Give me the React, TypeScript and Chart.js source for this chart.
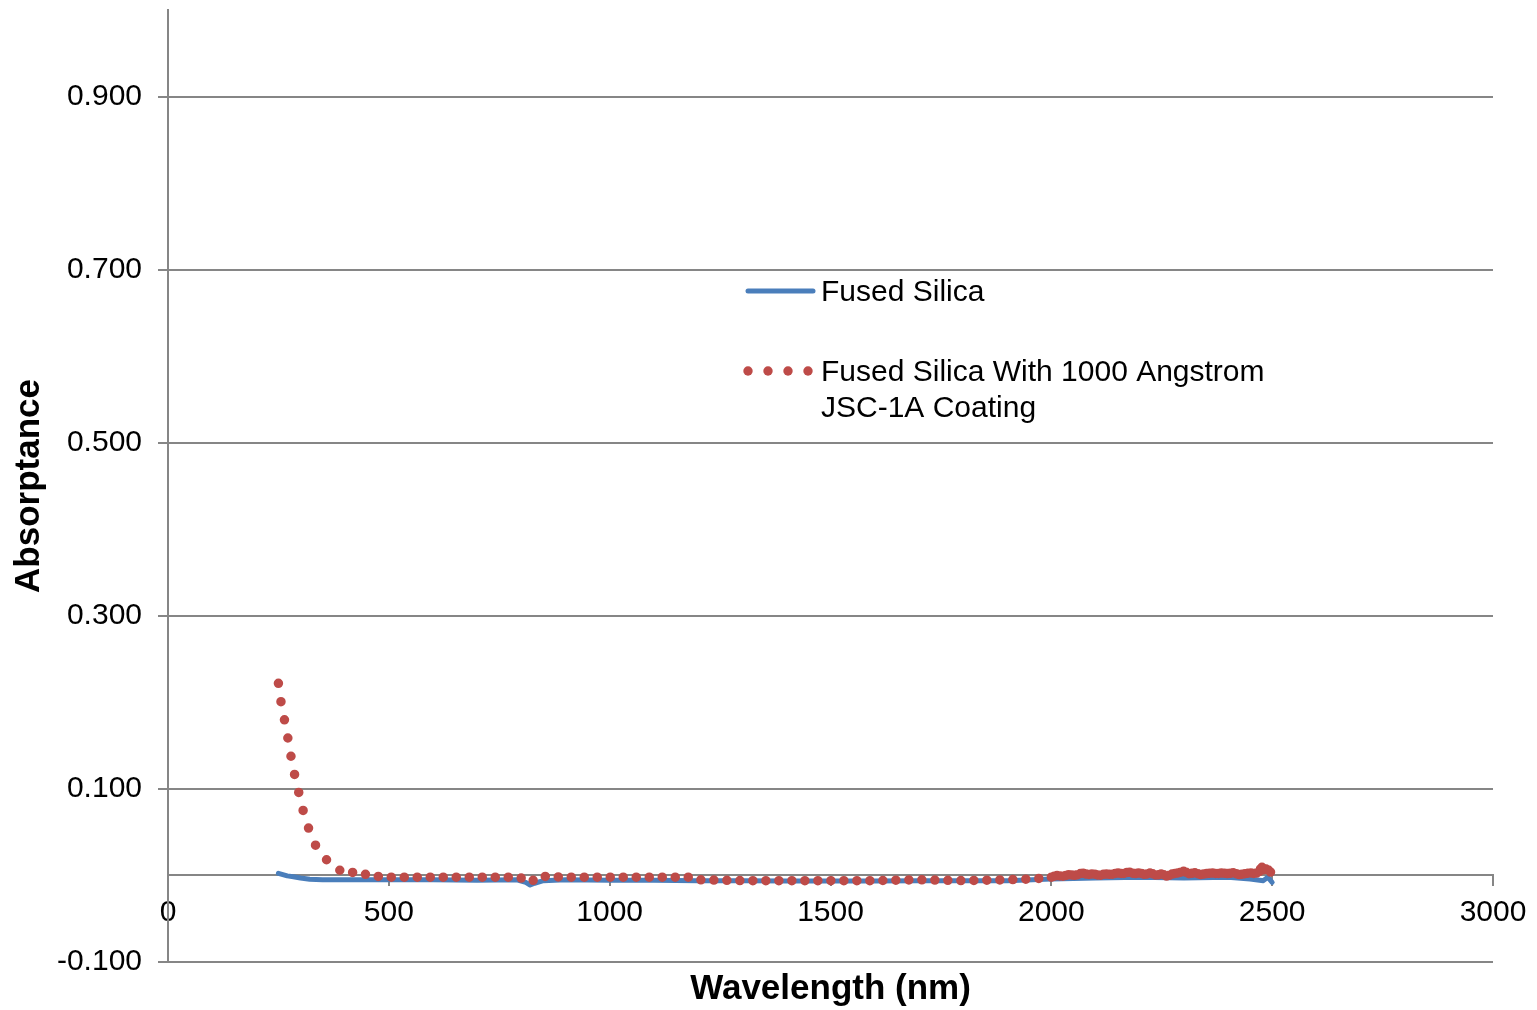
import React, { useEffect, useRef } from 'react';
import { Chart, registerables } from 'chart.js';

Chart.register(...registerables);

// ---- data ----
const X_TICKS = [0, 500, 1000, 1500, 2000, 2500, 3000];
const Y_TICKS = [-0.1, 0.1, 0.3, 0.5, 0.7, 0.9];

const SERIES_LABELS = ['Fused Silica', 'Fused Silica With 1000 Angstrom JSC-1A Coating'];

const SILICA_NM = [
  250, 260, 270, 284, 300, 321, 350, 400, 500, 600, 700, 790, 810, 820, 830, 850, 900,
  1000, 1100, 1200, 1300, 1400, 1500, 1600, 1700, 1800, 1900, 2000, 2100, 2200, 2300,
  2400, 2450, 2480, 2490, 2500,
];
const SILICA_ABS = [
  0.0025, 0.001, -0.0005, -0.0015, -0.003, -0.0045, -0.005, -0.005, -0.005, -0.005, -0.0055,
  -0.005, -0.008, -0.011, -0.009, -0.006, -0.005,
  -0.0055, -0.0055, -0.006, -0.006, -0.0065, -0.0065, -0.0065, -0.006, -0.006, -0.006,
  -0.004, -0.003, -0.002, -0.003, -0.002, -0.004, -0.006, -0.002, -0.008,
];

const COATED_NM = [
  250, 256, 264, 272, 279, 286, 296, 306, 318, 332, 343, 355, 370, 389, 410, 427, 451, 472,
  495, 520, 600, 700, 790, 810, 820, 830, 840, 850, 900, 1000, 1100, 1180, 1200, 1300, 1400,
  1500, 1600, 1700, 1800, 1900, 1960, 2000, 2012, 2025, 2040, 2055, 2070, 2082, 2095, 2110,
  2122, 2135, 2150, 2162, 2175, 2188, 2200, 2212, 2225, 2238, 2250, 2262, 2275, 2288, 2300,
  2312, 2325, 2338, 2350, 2362, 2375, 2388, 2400, 2412, 2425, 2438, 2450, 2462, 2470, 2476,
  2482, 2488, 2494, 2500,
];
const COATED_ABS = [
  0.222, 0.2, 0.179, 0.157, 0.136, 0.118, 0.096, 0.075, 0.055, 0.037, 0.026, 0.02, 0.013,
  0.006, 0.004, 0.003, 0.001, -0.001,
  -0.002, -0.002, -0.002, -0.002, -0.002, -0.004, -0.007, -0.005, -0.002, -0.001, -0.002,
  -0.002, -0.002, -0.002, -0.005, -0.006, -0.006,
  -0.006, -0.006, -0.005, -0.006, -0.005, -0.004, -0.002, 0.0, -0.001, 0.001, 0.0, 0.003,
  0.001, 0.002, 0.0,
  0.002, 0.001, 0.003, 0.002, 0.004, 0.002, 0.003, 0.001, 0.003, 0.0, 0.002, -0.001, 0.002,
  0.003, 0.005,
  0.002, 0.003, 0.001, 0.002, 0.003, 0.002, 0.003, 0.002, 0.003, 0.001, 0.002, 0.003, 0.002,
  0.004, 0.01,
  0.006, 0.008, 0.005, 0.002,
];

// ---- style ----
const FONT = "'Liberation Sans', Arial, Helvetica, sans-serif";
const GRID = '#868686';
const BLUE = '#4A7EBB';
const RED = '#BE4B48';

const legendPlugin = {
  id: 'insideLegend',
  afterDraw(chart: any) {
    const ctx = chart.ctx as CanvasRenderingContext2D;
    ctx.save();
    // blue line sample
    ctx.strokeStyle = BLUE;
    ctx.lineWidth = 5;
    ctx.lineCap = 'round';
    ctx.beginPath();
    ctx.moveTo(748, 291);
    ctx.lineTo(813, 291);
    ctx.stroke();
    // red dots sample
    ctx.fillStyle = RED;
    for (let i = 0; i < 4; i++) {
      ctx.beginPath();
      ctx.arc(748 + i * 20, 371, 4.7, 0, Math.PI * 2);
      ctx.fill();
    }
    ctx.fillStyle = '#000';
    ctx.font = `30px ${FONT}`;
    ctx.textAlign = 'left';
    ctx.textBaseline = 'middle';
    ctx.fillText(SERIES_LABELS[0], 821, 293);
    ctx.fillText('Fused Silica With 1000 Angstrom', 821, 373);
    ctx.fillText('JSC-1A Coating', 821, 409);
    ctx.restore();
  },
};

export default function App() {
  const canvasRef = useRef<HTMLCanvasElement | null>(null);

  useEffect(() => {
    if (!canvasRef.current) return;
    const chart = new Chart(canvasRef.current, {
      type: 'line',
      data: {
        datasets: [
          {
            label: SERIES_LABELS[1],
            data: COATED_NM.map((x, i) => ({ x, y: COATED_ABS[i] })),
            borderColor: RED,
            backgroundColor: RED,
            borderWidth: 9.5,
            borderCapStyle: 'round',
            borderJoinStyle: 'round',
            borderDash: [0, 13],
            segment: {
              borderDash: (c: any) => {
                const x = c.p0.parsed.x;
                if (x < 380) return [0, 18.5];
                if (x >= 1990) return [0, 3];
                return [0, 13];
              },
            },
            pointRadius: 0,
            fill: false,
            tension: 0,
            order: 0,
          },
          {
            label: SERIES_LABELS[0],
            data: SILICA_NM.map((x, i) => ({ x, y: SILICA_ABS[i] })),
            borderColor: BLUE,
            backgroundColor: BLUE,
            borderWidth: 5,
            borderCapStyle: 'round',
            borderJoinStyle: 'round',
            pointRadius: 0,
            fill: false,
            tension: 0,
            order: 1,
          },
        ],
      },
      options: {
        responsive: false,
        animation: false,
        layout: { padding: { left: 0, top: 10, right: 44, bottom: 0 } },
        plugins: { legend: { display: false }, tooltip: { enabled: false } },
        scales: {
          x: {
            type: 'linear',
            min: 0,
            max: 3000,
            position: { y: 0 } as any,
            afterBuildTicks: (s: any) => {
              s.ticks = X_TICKS.map((v) => ({ value: v }));
            },
            afterFit: (s: any) => {
              s.paddingLeft = 0;
              s.paddingRight = 0;
            },
            grid: {
              display: true,
              drawOnChartArea: false,
              drawTicks: true,
              tickLength: 10,
              color: GRID,
              lineWidth: 2,
            },
            border: { display: true, color: GRID, width: 2 },
            ticks: {
              color: '#000',
              font: { family: FONT, size: 30 },
              padding: 9,
              maxRotation: 0,
              autoSkip: false,
              callback: (v: any) => String(v),
            },
          },
          x2: {
            type: 'linear',
            position: 'bottom',
            afterFit: (s: any) => {
              s.height = 48;
              s.paddingLeft = 0;
              s.paddingRight = 0;
            },
            ticks: { display: false },
            grid: { display: false },
            border: { display: false },
            title: {
              display: true,
              text: 'Wavelength (nm)',
              color: '#000',
              font: { family: FONT, size: 35, weight: 'bold' },
              padding: { top: 0, bottom: 0 },
            },
          },
          y: {
            type: 'linear',
            min: -0.1,
            max: 1.0,
            position: 'left',
            afterFit: (s: any) => {
              s.width = 168;
              s.paddingTop = 0;
              s.paddingBottom = 0;
            },
            afterBuildTicks: (s: any) => {
              s.ticks = Y_TICKS.map((v) => ({ value: v }));
            },
            grid: {
              color: GRID,
              lineWidth: 2,
              drawTicks: true,
              tickLength: 10,
            },
            border: { display: true, color: GRID, width: 2 },
            ticks: {
              color: '#000',
              font: { family: FONT, size: 30 },
              padding: 16,
              callback: (v: any) => Number(v).toFixed(3),
            },
            title: {
              display: true,
              text: 'Absorptance',
              color: '#000',
              font: { family: FONT, size: 35, weight: 'bold' },
              padding: { top: 8, bottom: 0 },
            },
          },
        },
      } as any,
      plugins: [legendPlugin],
    });
    return () => chart.destroy();
  }, []);

  return (
    <div style={{ position: 'absolute', left: 0, top: 0, width: 1537, height: 1010, background: '#fff' }}>
      <canvas ref={canvasRef} width={1537} height={1010} style={{ display: 'block' }} />
    </div>
  );
}
